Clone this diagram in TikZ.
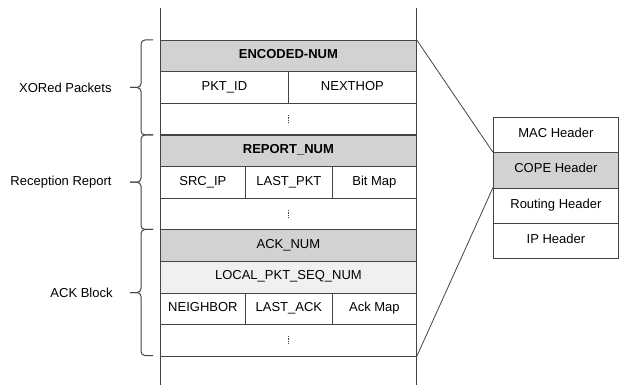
\documentclass[tikz,border=0pt]{standalone}
\usepackage{fontspec}
\setmainfont{Liberation Sans}
\definecolor{hdrgray}{HTML}{D2D2D2}
\definecolor{litegray}{HTML}{F0F0F0}
\definecolor{linegray}{HTML}{444444}
\newcommand{\sidebrace}[2]{%
  \draw[line width=1pt, rounded corners=4pt] (153,#1) -- (141,#1) -- (141,{(#1+#2)/2}) -- (130,{(#1+#2)/2});
  \draw[line width=1pt, rounded corners=4pt] (153,#2) -- (141,#2) -- (141,{(#1+#2)/2}) -- (130,{(#1+#2)/2});}
\begin{document}
\begin{tikzpicture}[x=1pt, y=-1pt, line width=0.8pt, draw=linegray,
  font=\fontsize{13}{15}\selectfont,
  cell/.style={draw=linegray, anchor=north west, inner sep=0pt, minimum height=31.5pt,
    text height=9.3pt, text depth=4pt},
  hdr/.style={draw=linegray, anchor=north west, inner sep=0pt, minimum width=125pt, minimum height=35.3pt,
    text height=9.3pt, text depth=4pt},
  lbl/.style={anchor=east, inner sep=0pt}]
  \useasboundingbox (0,0) rectangle (619,385);
  % column borders
  \draw (160,8) -- (160,385);
  \draw (416,8) -- (416,385);
  % XORed packets
  \node[cell, fill=hdrgray, minimum width=256pt, font=\fontsize{13}{15}\selectfont\bfseries] (enc) at (160,40) {ENCODED-NUM};
  \node[cell, minimum width=128pt] (pktid) at (160,71.5) {PKT\_ID};
  \node[cell, minimum width=128pt] (nexthop) at (288,71.5) {NEXTHOP};
  \node[cell, minimum width=256pt] (dotsa) at (160,103) {};
  % reception report
  \node[cell, fill=hdrgray, minimum width=256pt, font=\fontsize{13}{15}\selectfont\bfseries] (rep) at (160,135) {REPORT\_NUM};
  \node[cell, minimum width=85pt] (srcip) at (160,166.5) {SRC\_IP};
  \node[cell, minimum width=87pt] (lastpkt) at (245,166.5) {LAST\_PKT};
  \node[cell, minimum width=84pt] (bitmap) at (332,166.5) {Bit Map};
  \node[cell, minimum width=256pt] (dotsb) at (160,198) {};
  % ACK block
  \node[cell, fill=hdrgray, minimum width=256pt] (acknum) at (160,229.5) {ACK\_NUM};
  \node[cell, fill=litegray, minimum width=256pt] (localseq) at (160,261) {LOCAL\_PKT\_SEQ\_NUM};
  \node[cell, minimum width=85pt] (neighbor) at (160,292.5) {NEIGHBOR};
  \node[cell, minimum width=87pt] (lastack) at (245,292.5) {LAST\_ACK};
  \node[cell, minimum width=84pt] (ackmap) at (332,292.5) {Ack Map};
  \node[cell, minimum width=256pt] (dotsc) at (160,324) {};
  % vertical ellipses
  \foreach \d in {dotsa, dotsb, dotsc}
    \draw[line width=0.6pt, densely dotted] ([yshift=4pt]\d.center) -- ([yshift=-4pt]\d.center);
  % packet headers
  \node[hdr] (mac) at (493,117) {MAC Header};
  \node[hdr, fill=hdrgray] (cope) at (493,152.3) {COPE Header};
  \node[hdr] (routing) at (493,187.6) {Routing Header};
  \node[hdr] (iphdr) at (493,222.9) {IP Header};
  % zoom lines
  \draw (enc.north east) -- (cope.north west);
  \draw (dotsc.south east) -- (routing.north west);
  % braces and labels
  \sidebrace{40}{135}
  \sidebrace{135}{229.5}
  \sidebrace{229.5}{355.5}
  \node[lbl] (xorlbl) at (112,87.5) {XORed Packets};
  \node[lbl] (replbl) at (112,182) {Reception Report};
  \node[lbl] (acklbl) at (113,292.5) {ACK Block};
\end{tikzpicture}
\end{document}
